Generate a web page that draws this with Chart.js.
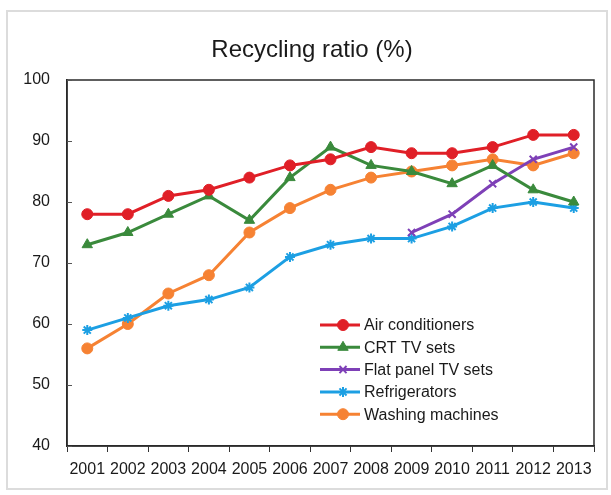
<!DOCTYPE html>
<html>
<head>
<meta charset="utf-8">
<script src="https://cdn.jsdelivr.net/npm/chart.js@4/dist/chart.umd.min.js"></script>
<style>
  body { margin: 0; background: #fff; }
  canvas { display: block; }
</style>
</head>
<body>
<canvas id="chart" width="611" height="495"></canvas>
<script>
const years = ['2001', '2002', '2003', '2004', '2005', '2006', '2007', '2008', '2009', '2010', '2011', '2012', '2013'];

const airConditioners = [78, 78, 81, 82, 84, 86, 87, 89, 88, 88, 89, 91, 91];
const crtTvSets = [73, 75, 78, 81, 77, 84, 89, 86, 85, 83, 86, 82, 80];
const flatPanelTvSets = [null, null, null, null, null, null, null, null, 75, 78, 83, 87, 89];
const refrigerators = [59, 61, 63, 64, 66, 71, 73, 74, 74, 76, 79, 80, 79];
const washingMachines = [56, 60, 65, 68, 75, 79, 82, 84, 85, 86, 87, 86, 88];

const yTicks = [40, 50, 60, 70, 80, 90, 100];

const FONT = '"Liberation Sans", Arial, sans-serif';

function series(label, data, color, style, radius) {
  return {
    label,
    data,
    borderColor: color,
    backgroundColor: color,
    pointBorderColor: color,
    pointBackgroundColor: color,
    borderWidth: 3,
    pointStyle: style,
    pointRadius: radius,
    pointBorderWidth: style === 'star' || style === 'crossRot' ? 2 : 1,
    tension: 0,
    spanGaps: false
  };
}

// outer frame, plot box, inward y ticks, title
const decorations = {
  id: 'decorations',
  beforeDraw(chart) {
    const ctx = chart.ctx;
    ctx.save();
    ctx.strokeStyle = '#dcdcdc';
    ctx.lineWidth = 2;
    ctx.strokeRect(7, 11, 600, 478);
    ctx.fillStyle = '#1a1a1a';
    ctx.font = '24px ' + FONT;
    ctx.textAlign = 'center';
    ctx.textBaseline = 'middle';
    ctx.fillText('Recycling ratio (%)', 312, 50);
    ctx.restore();
  },
  afterDraw(chart) {
    const { ctx, chartArea, scales } = chart;
    ctx.save();
    ctx.strokeStyle = '#2a2a2a';
    ctx.lineWidth = 1.5;
    ctx.strokeRect(chartArea.left, chartArea.top, chartArea.right - chartArea.left, chartArea.bottom - chartArea.top);
    ctx.lineWidth = 1;
    ctx.strokeStyle = '#555';
    yTicks.forEach(v => {
      const y = Math.round(scales.y.getPixelForValue(v)) + 0.5;
      ctx.beginPath();
      ctx.moveTo(chartArea.left, y);
      ctx.lineTo(chartArea.left + 5, y);
      ctx.stroke();
    });
    ctx.restore();
  }
};

// legend drawn inside the plot area
const insideLegend = {
  id: 'insideLegend',
  afterDatasetsDraw(chart) {
    const ctx = chart.ctx;
    const x0 = 320, x1 = 360, top = 325, step = 22.3;
    ctx.save();
    ctx.font = '16px ' + FONT;
    ctx.textBaseline = 'middle';
    ctx.textAlign = 'left';
    chart.data.datasets.forEach((ds, i) => {
      const y = top + i * step;
      ctx.strokeStyle = ds.borderColor;
      ctx.lineWidth = 3;
      ctx.beginPath();
      ctx.moveTo(x0, y);
      ctx.lineTo(x1, y);
      ctx.stroke();
      ctx.fillStyle = ds.backgroundColor;
      ctx.lineWidth = ds.pointBorderWidth;
      Chart.helpers.drawPoint(ctx, { pointStyle: ds.pointStyle, radius: ds.pointRadius, borderWidth: ds.pointBorderWidth }, (x0 + x1) / 2 + 3, y);
      ctx.fillStyle = '#1a1a1a';
      ctx.fillText(ds.label, x1 + 4, y + 1);
    });
    ctx.restore();
  }
};

new Chart(document.getElementById('chart'), {
  type: 'line',
  data: {
    labels: years,
    datasets: [
      series('Air conditioners', airConditioners, '#e01f27', 'circle', 5.5),
      series('CRT TV sets', crtTvSets, '#3a8a3c', 'triangle', 6),
      series('Flat panel TV sets', flatPanelTvSets, '#7e40b7', 'crossRot', 5),
      series('Refrigerators', refrigerators, '#1c9fe3', 'star', 5),
      series('Washing machines', washingMachines, '#f68233', 'circle', 5.5)
    ]
  },
  options: {
    responsive: false,
    animation: false,
    layout: { padding: { top: 80, right: 17, left: 0, bottom: 0 } },
    plugins: {
      legend: { display: false },
      title: { display: false },
      tooltip: { enabled: false }
    },
    scales: {
      x: {
        offset: true,
        afterFit(scale) { scale.height = 49; },
        grid: { offset: true, drawOnChartArea: false, drawTicks: true, tickLength: 6, color: '#333' },
        border: { display: true, color: '#2a2a2a', width: 1.5 },
        ticks: { color: '#1a1a1a', font: { family: FONT, size: 16 }, padding: 8, maxRotation: 0, autoSkip: false }
      },
      y: {
        min: 40,
        max: 100,
        afterFit(scale) { scale.width = 67; },
        afterBuildTicks(scale) { scale.ticks = yTicks.map(v => ({ value: v })); },
        grid: { display: false, drawTicks: false },
        border: { display: true, color: '#2a2a2a', width: 1.5 },
        ticks: { color: '#1a1a1a', font: { family: FONT, size: 16 }, padding: 17 }
      }
    }
  },
  plugins: [decorations, insideLegend]
});
</script>
</body>
</html>
